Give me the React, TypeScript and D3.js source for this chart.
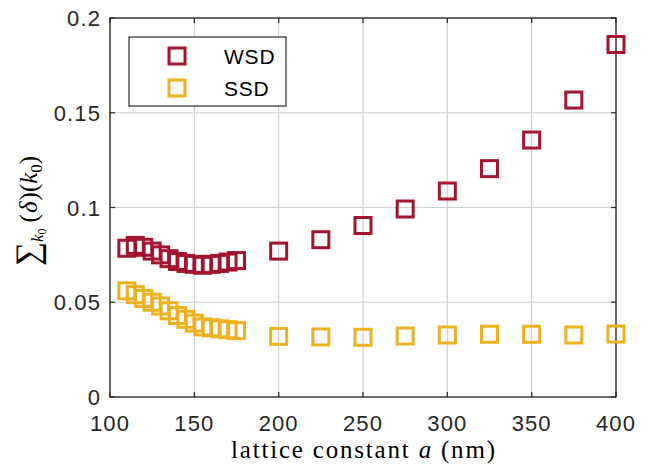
import React from 'react'
import * as d3 from 'd3'

const latticeA = [110, 115, 120, 125, 130, 135, 140, 145, 150, 155, 160, 165, 170, 175, 200, 225, 250, 275, 300, 325, 350, 375, 400]
const wsdValues = [0.0785, 0.08, 0.079, 0.077, 0.075, 0.073, 0.0715, 0.0705, 0.07, 0.0695, 0.07, 0.0705, 0.0712, 0.072, 0.077, 0.083, 0.0905, 0.0992, 0.1087, 0.1205, 0.1356, 0.1567, 0.186]
const ssdValues = [0.056, 0.054, 0.052, 0.05, 0.048, 0.0455, 0.043, 0.041, 0.039, 0.037, 0.0365, 0.036, 0.0355, 0.035, 0.032, 0.0317, 0.0315, 0.0322, 0.0327, 0.0331, 0.0331, 0.0327, 0.0332]
const xTicks = [100, 150, 200, 250, 300, 350, 400]
const yTicks = [0, 0.05, 0.1, 0.15, 0.2]
const yTickLabels = ['0', '0.05', '0.1', '0.15', '0.2']
const seriesNames = ['WSD', 'SSD']
const seriesColors = ['#A2142F', '#EDB120']

const W = 654
const H = 470
const m = { left: 110, right: 38, top: 18, bottom: 73 }

export default function App() {
  const x = d3.scaleLinear().domain([100, 400]).range([m.left, W - m.right])
  const y = d3.scaleLinear().domain([0, 0.2]).range([H - m.bottom, m.top])
  const [x0, x1] = x.range()
  const [y0, y1] = y.range()
  const series = [wsdValues, ssdValues]
  const ms = 16
  const axisColor = '#262626'
  const tickFont = 'Liberation Sans, Arial, sans-serif'
  const serif = 'Liberation Serif, Times New Roman, serif'

  return (
    <svg width={W} height={H} style={{ position: 'absolute', left: 0, top: 0 }}>
      <rect width={W} height={H} fill="#fff" />
      {/* grid */}
      {xTicks.map((t) => (
        <line key={'gx' + t} x1={x(t)} x2={x(t)} y1={y0} y2={y1} stroke="#cfcfcf" strokeWidth={1.2} />
      ))}
      {yTicks.map((t) => (
        <line key={'gy' + t} x1={x0} x2={x1} y1={y(t)} y2={y(t)} stroke="#cfcfcf" strokeWidth={1.2} />
      ))}
      {/* ticks on all sides */}
      {xTicks.map((t) => (
        <g key={'tx' + t} stroke={axisColor} strokeWidth={1.2}>
          <line x1={x(t)} x2={x(t)} y1={y0} y2={y0 - 5} />
          <line x1={x(t)} x2={x(t)} y1={y1} y2={y1 + 5} />
        </g>
      ))}
      {yTicks.map((t) => (
        <g key={'ty' + t} stroke={axisColor} strokeWidth={1.2}>
          <line x1={x0} x2={x0 + 5} y1={y(t)} y2={y(t)} />
          <line x1={x1} x2={x1 - 5} y1={y(t)} y2={y(t)} />
        </g>
      ))}
      <rect x={x0} y={y1} width={x1 - x0} height={y0 - y1} fill="none" stroke={axisColor} strokeWidth={1.3} />
      {/* tick labels */}
      {xTicks.map((t) => (
        <text key={'lx' + t} x={x(t)} y={y0 + 34} textAnchor="middle" fontFamily={tickFont} fontSize={22} letterSpacing={1.1} fill={axisColor}>
          {t}
        </text>
      ))}
      {yTicks.map((t, i) => (
        <text key={'ly' + t} x={x0 - 9} y={y(t) + 8} textAnchor="end" fontFamily={tickFont} fontSize={22} letterSpacing={1.1} fill={axisColor}>
          {yTickLabels[i]}
        </text>
      ))}
      {/* markers */}
      {series.map((vals, si) =>
        vals.map((v, i) => (
          <rect
            key={si + '-' + i}
            x={x(latticeA[i]) - ms / 2}
            y={y(v) - ms / 2}
            width={ms}
            height={ms}
            fill="none"
            stroke={seriesColors[si]}
            strokeWidth={3}
          />
        ))
      )}
      {/* legend */}
      <rect x={129} y={37} width={157} height={69} fill="#fff" stroke="#000" strokeWidth={1} />
      {seriesNames.map((n, i) => (
        <g key={n}>
          <rect x={177 - ms / 2} y={56 + i * 32 - ms / 2} width={ms} height={ms} fill="none" stroke={seriesColors[i]} strokeWidth={3} />
          <text x={224} y={56 + i * 32 + 7.5} fontFamily={tickFont} fontSize={21} letterSpacing={0.8} fill="#000">
            {n}
          </text>
        </g>
      ))}
      {/* axis labels */}
      <text
        x={(x0 + x1) / 2}
        y={458}
        textAnchor="middle"
        fontFamily={serif}
        fontSize={25}
        textLength={264}
        lengthAdjust="spacing"
        fill="#000"
      >
        lattice constant <tspan fontStyle="italic">a</tspan> (nm)
      </text>
      <text
        transform={`translate(37, 211) rotate(-90)`}
        textAnchor="middle"
        fontFamily={serif}
        fontSize={25}
        fill="#000"
      >
        <tspan fontSize={34} dy={2}>∑</tspan>
        <tspan fontStyle="italic" fontSize={17} dy={4}>k</tspan>
        <tspan fontSize={12} dy={3}>0</tspan>
        <tspan dx={6} dy={-9}>(</tspan>
        <tspan fontStyle="italic" dx={1}>δ</tspan>
        <tspan dx={1}>)(</tspan>
        <tspan fontStyle="italic">k</tspan>
        <tspan fontSize={17} dy={5}>0</tspan>
        <tspan dy={-5}>)</tspan>
      </text>
    </svg>
  )
}
